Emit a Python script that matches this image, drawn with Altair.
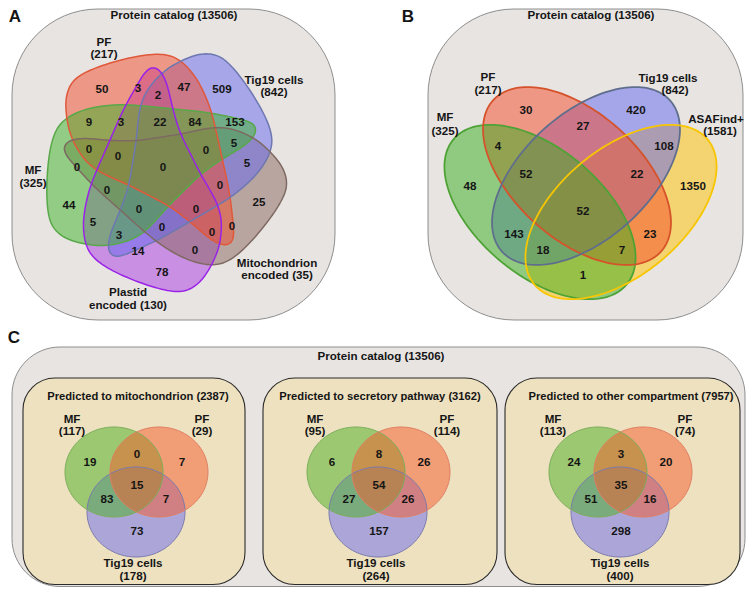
import numpy as np
import pandas as pd
import altair as alt

# ======================= DATA =======================
catalog_label = "Protein catalog (13506)"

# ---- Panel A : five-set Venn ----
A_sets = ["PF", "Tig19 cells", "MF", "Mitochondrion encoded", "Plastid encoded"]
A_sizes = [217, 842, 325, 35, 130]
A_counts = [50, 3, 2, 47, 509,
            9, 3, 22, 84, 153,
            5, 0, 0, 0, 5, 0, 0, 0,
            0, 44, 0, 0, 25, 5, 0, 0, 0, 3, 14, 0, 78]

# ---- Panel B : four-set Venn ----
B_sets = ["MF", "PF", "Tig19 cells", "ASAFind+"]
B_sizes = [325, 217, 842, 1581]
B_counts = [30, 420, 27, 4, 108, 48, 52, 22, 1350, 52, 143, 23, 18, 7, 1]

# ---- Panel C : three three-set Venns ----
C_titles = ["Predicted to mitochondrion (2387)",
            "Predicted to secretory pathway (3162)",
            "Predicted to other compartment (7957)"]
C_sets = ["MF", "PF", "Tig19 cells"]
C_sizes = [[117, 29, 178], [95, 114, 264], [113, 74, 400]]
# order: MF only, MF&PF, PF only, all three, MF&Tig, PF&Tig, Tig only
C_counts = [[19, 0, 7, 15, 83, 7, 73],
            [6, 8, 26, 54, 27, 26, 157],
            [24, 3, 20, 35, 51, 16, 298]]

# ======================= LAYOUT (image pixel coordinates) =======================
W, H = 739, 579
M = 8
xs = alt.Scale(domain=[M, M + W], range=[0, W], nice=False, zero=False)
ys = alt.Scale(domain=[M, M + H], range=[0, H], nice=False, zero=False)
FS = 11.6

A_count_xy = [(102, 90), (138, 89), (158, 96), (184, 88), (222, 90),
              (89, 123), (121, 123), (160, 123), (195, 123), (235, 123),
              (234, 144), (89, 150), (118, 157), (206, 151), (247, 164), (77, 168), (163, 168), (220, 186),
              (107, 191), (69, 206), (139, 210), (196, 210), (259, 203), (93, 223), (162, 228),
              (212, 233), (232, 227), (119, 236), (138, 252), (195, 251), (162, 273)]
A_label_xy = [((104, 43), (104, 55)), ((274, 81), (274, 93)), ((33, 171), (33, 184)),
              ((277, 264), (277, 276)), ((128, 293), (128, 306))]

B_count_xy = [(526, 111), (636, 111), (583, 127), (498, 147), (664, 147), (470, 187), (526, 175),
              (637, 175), (693, 187), (583, 212), (514, 235), (650, 235), (543, 251), (622, 251), (583, 276)]
B_label_xy = [((445, 118), (445, 132)), ((488, 78), (488, 91)), ((668, 79), (675, 91)),
              ((716, 120), (720, 132))]

C_dx = [0, 242, 484]
C_count_xy = [(90, 463), (137, 455), (182, 463), (137, 486), (107, 500), (166, 500), (137, 532)]
C_count_dx = [0, 242, 484]
C_label_xy = [[((72, 420), (72, 432)), ((202, 420), (202, 432)), ((133, 564), (133, 577))],
              [((315, 420), (315, 432)), ((447, 420), (447, 432)), ((376, 564), (376, 577))],
              [((553, 420), (553, 432)), ((685, 420), (685, 432)), ((620, 564), (620, 577))]]
C_title_xy = [(138, 397), (380, 397), (631, 397)]

# base outline of one 5-set shape (the plastid one), rotated by 72 deg for the others
A_center = (163, 168)
A_base = [(152, 67), (160, 70), (167, 83), (173, 110), (180, 133), (190, 153), (200, 173), (210, 190),
          (218, 205), (222, 222), (220, 245), (212, 265), (200, 283), (185, 292), (167, 291), (140, 283),
          (110, 270), (92, 257), (85, 243), (83, 225), (85, 207), (90, 187), (98, 167), (110, 140),
          (123, 110), (137, 85), (145, 72)]
A_rot = [144, 216, 72, 288, 0]
A_fill = ["#F24A2A", "#6468F0", "#3CB428", "#8A665E", "#AA3AE2"]
A_stroke = ["#E0583A", "#6E78B0", "#58A848", "#7E6A62", "#9A22E8"]
A_order = [4, 3, 1, 0, 2]          # fill order: Plastid, Mito, Tig19, PF, MF
A_sorder = [2, 0, 1, 3, 4]         # outline order: MF, PF, Tig19, Mito, Plastid

B_ell = [(540, 212, 113, 63, 40), (577, 176, 113, 63, 42), (586, 176, 113, 63, -42), (621, 212, 113, 63, -40)]
B_fill = ["#38AE1E", "#F44A28", "#6266F2", "#FFC200"]
B_stroke = ["#4FA336", "#D5522A", "#5F6E8C", "#F7C600"]
B_order = [3, 2, 1, 0]             # ASAFind+, Tig19, PF, MF
B_sorder = [0, 1, 2, 3]

C_circ = [(114, 472), (159, 472), (136, 512)]
C_rx, C_ry = 49, 45
C_fill = ["#48B020", "#F45A2C", "#6A6CF0"]
C_stroke = ["#7AAE5A", "#E07E62", "#7A7AAE"]
C_order = [2, 0, 1]                # Tig19, MF, PF

# ======================= GEOMETRY HELPERS =======================
S = 100.0
SYM = (2 * S) ** 2


def to_path(pts):
    return "M" + "L".join(f"{x / S:.4f},{y / S:.4f}" for x, y in pts) + "Z"


def ellipse_pts(a, b, deg, n=160):
    t = np.linspace(0, 2 * np.pi, n, endpoint=False)
    th = np.radians(deg)
    x = a * np.cos(t) * np.cos(th) - b * np.sin(t) * np.sin(th)
    y = a * np.cos(t) * np.sin(th) + b * np.sin(t) * np.cos(th)
    return list(zip(x, y))


def chaikin(pts, it=3):
    p = np.asarray(pts, float)
    for _ in range(it):
        q = np.roll(p, -1, axis=0)
        p = np.stack([0.75 * p + 0.25 * q, 0.25 * p + 0.75 * q], axis=1).reshape(-1, 2)
    return p


def rotate(pts, deg):
    th = np.radians(deg)
    c, s = np.cos(th), np.sin(th)
    p = np.asarray(pts, float)
    return np.column_stack([p[:, 0] * c - p[:, 1] * s, p[:, 0] * s + p[:, 1] * c])


base_rel = chaikin([(x - A_center[0], y - A_center[1]) for x, y in A_base], 3)
A_shapes = [dict(cx=A_center[0], cy=A_center[1], path=to_path(rotate(base_rel, A_rot[i])),
                 fill=A_fill[i], stroke=A_stroke[i], sw=1.5, fo=0.5) for i in range(5)]
B_shapes = [dict(cx=B_ell[i][0], cy=B_ell[i][1], path=to_path(ellipse_pts(*B_ell[i][2:])),
                 fill=B_fill[i], stroke=B_stroke[i], sw=1.8, fo=0.5) for i in range(4)]
C_shapes = [[dict(cx=C_circ[i][0] + C_dx[p], cy=C_circ[i][1], path=to_path(ellipse_pts(C_rx, C_ry, 0)),
                  fill=C_fill[i], stroke=C_stroke[i], sw=1.0, fo=0.5) for i in range(3)] for p in range(3)]

fill_rows = [A_shapes[i] for i in A_order] + [B_shapes[i] for i in B_order] + \
            [C_shapes[p][i] for p in range(3) for i in C_order]
stroke_rows = [A_shapes[i] for i in A_sorder] + [B_shapes[i] for i in B_sorder] + \
              [C_shapes[p][i] for p in range(3) for i in C_order]
fill_df = pd.DataFrame(fill_rows)
stroke_df = pd.DataFrame(stroke_rows)

# ---- background boxes ----
big_boxes = pd.DataFrame(dict(x=[12, 428], x2=[335, 743], y=[9, 9], y2=[320, 320]))
c_outer = pd.DataFrame(dict(x=[12], x2=[745], y=[347], y2=[586.5]))
c_inner = pd.DataFrame(dict(x=[23, 263, 505], x2=[245, 497, 740], y=[378, 378, 378], y2=[584.5, 584.5, 584.5]))

# ---- texts ----
trows = []
def add(x, y, t, fs=FS):
    trows.append(dict(x=x, y=y, text=str(t), fs=fs))

add(15, 17, "A", 17); add(408, 17, "B", 17); add(14, 338, "C", 17)
add(174, 16, catalog_label); add(591, 16, catalog_label); add(381, 357, catalog_label)

for (x, y), n in zip(A_count_xy, A_counts):
    add(x, y, n)
for name, size, (p1, p2) in zip(A_sets, A_sizes, A_label_xy):
    if name.endswith(" encoded"):
        add(*p1, name.replace(" encoded", "")); add(*p2, f"encoded ({size})")
    else:
        add(*p1, name); add(*p2, f"({size})")

for (x, y), n in zip(B_count_xy, B_counts):
    add(x, y, n)
for name, size, (p1, p2) in zip(B_sets, B_sizes, B_label_xy):
    add(*p1, name); add(*p2, f"({size})")

for p in range(3):
    add(*C_title_xy[p], C_titles[p], 11.2)
    for (x, y), n in zip(C_count_xy, C_counts[p]):
        add(x + C_count_dx[p], y, n)
    for name, size, (p1, p2) in zip(C_sets, C_sizes[p], C_label_xy[p]):
        add(*p1, name); add(*p2, f"({size})")
texts = pd.DataFrame(trows)

# ======================= CHART =======================
X = lambda f: alt.X(f, type="quantitative", scale=xs, axis=None)
Y = lambda f: alt.Y(f, type="quantitative", scale=ys, axis=None)

bg_big = alt.Chart(big_boxes).mark_rect(cornerRadius=86, fill="#E8E4E2", stroke="#8E8E8E",
                                        strokeWidth=1).encode(x=X("x"), x2="x2", y=Y("y"), y2="y2")
bg_c = alt.Chart(c_outer).mark_rect(cornerRadius=48, fill="#E8E4E2", stroke="#8E8E8E",
                                    strokeWidth=1).encode(x=X("x"), x2="x2", y=Y("y"), y2="y2")
bg_in = alt.Chart(c_inner).mark_rect(cornerRadius=32, fill="#EEE1C0", stroke="#2A2A2A",
                                     strokeWidth=1.1).encode(x=X("x"), x2="x2", y=Y("y"), y2="y2")

fills = alt.Chart(fill_df).mark_point(filled=True, size=SYM, opacity=1, strokeWidth=0).encode(
    x=X("cx"), y=Y("cy"),
    shape=alt.Shape("path:N", scale=None),
    fill=alt.Fill("fill:N", scale=None),
    fillOpacity=alt.FillOpacity("fo:Q", scale=None),
)
strokes = alt.Chart(stroke_df).mark_point(filled=False, size=SYM, opacity=1).encode(
    x=X("cx"), y=Y("cy"),
    shape=alt.Shape("path:N", scale=None),
    stroke=alt.Stroke("stroke:N", scale=None),
    strokeWidth=alt.StrokeWidth("sw:Q", scale=None),
)
labels = alt.Chart(texts).mark_text(font="Liberation Sans", fontWeight="bold", color="#151515",
                                    align="center", baseline="middle").encode(
    x=X("x"), y=Y("y"), text="text:N", size=alt.Size("fs:Q", scale=None))

chart = alt.layer(bg_big, bg_c, bg_in, fills, strokes, labels).properties(
    width=W, height=H, padding=0, autosize=alt.AutoSizeParams(type="none"),
    background="white",
).configure_view(stroke=None)

chart.save("out.html", embed_options={"renderer": "svg", "actions": False})
